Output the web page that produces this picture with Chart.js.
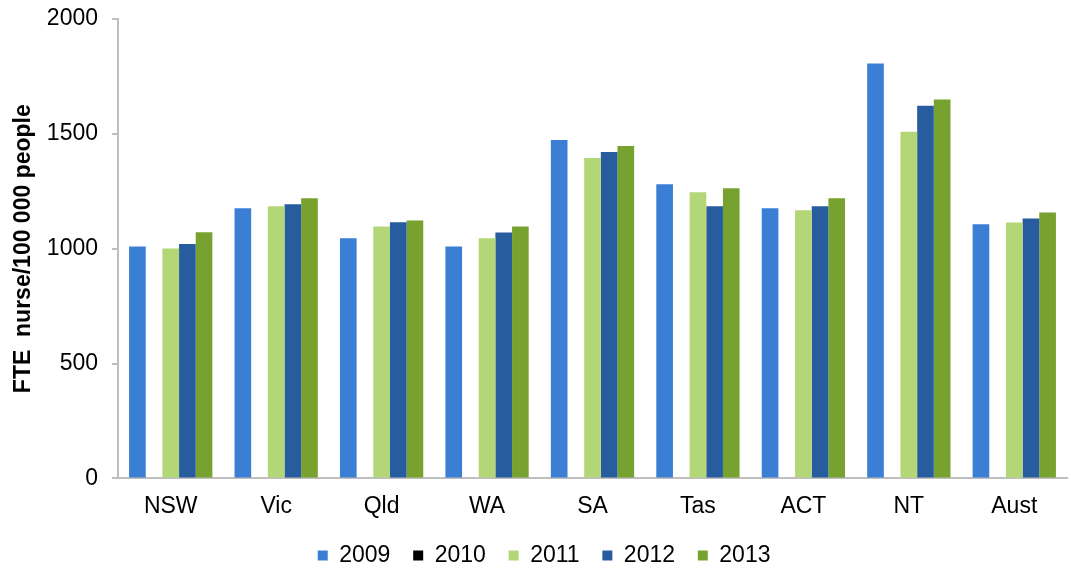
<!DOCTYPE html>
<html>
<head>
<meta charset="utf-8">
<script src="https://cdn.jsdelivr.net/npm/chart.js@4/dist/chart.umd.min.js"></script>
<style>
  html, body { margin: 0; padding: 0; background: #fff; }
  #wrap { width: 1071px; height: 569px; }
</style>
</head>
<body>
<div id="wrap"><canvas id="chart" width="1071" height="569"></canvas></div>
<script>
// FTE nurses per 100 000 people by jurisdiction
const categories = ['NSW', 'Vic', 'Qld', 'WA', 'SA', 'Tas', 'ACT', 'NT', 'Aust'];
const years = ['2009', '2010', '2011', '2012', '2013'];

const values2009 = [1010, 1176, 1045, 1010, 1473, 1281, 1176, 1806, 1106];
const values2010 = [null, null, null, null, null, null, null, null, null];
const values2011 = [1001, 1185, 1097, 1045, 1395, 1246, 1167, 1509, 1114];
const values2012 = [1020, 1194, 1115, 1071, 1421, 1185, 1185, 1622, 1132];
const values2013 = [1072, 1220, 1123, 1097, 1447, 1263, 1220, 1649, 1158];

const yTicks = [0, 500, 1000, 1500, 2000];

const colors = ['#3B7FD4', '#000000', '#B3D677', '#275C9E', '#78A22F'];
const series = [values2009, values2010, values2011, values2012, values2013];

const FONT = 'Arial, "Liberation Sans", sans-serif';
const FS = 23;

const datasets = years.map((y, i) => ({
    label: y,
    data: series[i],
    backgroundColor: colors[i],
    borderWidth: 0,
    barPercentage: 1,
    categoryPercentage: 0.79,
}));

// nudge the legend row a bit to the right, like the original
const legendShift = {
    id: 'legendShift',
    afterLayout(chart) {
        if (chart.legend) {
            chart.legend.left += 17;
            chart.legend.right += 17;
        }
    }
};

new Chart(document.getElementById('chart'), {
    type: 'bar',
    data: { labels: categories, datasets: datasets },
    plugins: [legendShift],
    options: {
        responsive: false,
        animation: false,
        layout: { padding: { top: 19, right: 4, bottom: -8, left: 0 } },
        plugins: {
            legend: {
                position: 'bottom',
                labels: {
                    boxWidth: 10,
                    boxHeight: 10,
                    padding: 10,
                    color: '#000',
                    font: { family: FONT, size: FS },
                    // widen the gap between legend entries
                    generateLabels: (chart) => {
                        const items = Chart.defaults.plugins.legend.labels.generateLabels(chart);
                        items.forEach(it => { it.text = it.text + '\u00a0\u00a0'; });
                        return items;
                    }
                }
            },
            tooltip: { enabled: false }
        },
        scales: {
            x: {
                grid: { display: false, drawTicks: false },
                border: { display: true, color: '#BFBFBF', width: 2 },
                ticks: {
                    color: '#000',
                    padding: 14,
                    font: { family: FONT, size: FS },
                }
            },
            y: {
                min: 0,
                max: 2000,
                afterBuildTicks: (axis) => {
                    axis.ticks = yTicks.map(v => ({ value: v }));
                },
                afterFit: (axis) => {
                    axis.width = 118;
                    axis.paddingTop = 0;
                    axis.paddingBottom = 0;
                },
                grid: {
                    drawOnChartArea: false,
                    drawTicks: true,
                    tickLength: 6,
                    color: '#BFBFBF',
                    lineWidth: 2,
                },
                border: { display: true, color: '#BFBFBF', width: 2 },
                ticks: {
                    color: '#000',
                    padding: 14,
                    font: { family: FONT, size: FS },
                    callback: (v) => String(v),
                },
                title: {
                    display: true,
                    text: 'FTE  nurse/100 000 people',
                    color: '#000',
                    padding: { top: 10, bottom: 0 },
                    font: { family: FONT, size: FS, weight: 'bold' },
                }
            }
        }
    }
});
</script>
</body>
</html>
